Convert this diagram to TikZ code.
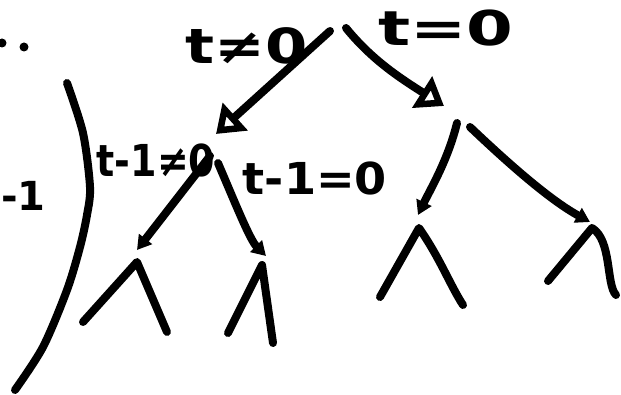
\documentclass[tikz,border=0pt]{standalone}
\usepackage{fontspec}
\newfontfamily\handfont{DejaVu Sans}
\usetikzlibrary{arrows.meta}
\begin{document}
\begin{tikzpicture}[x=1pt,y=-1pt,
  stroke/.style={line width=8pt, line cap=round, line join=round},
  bigtip/.style={-{Triangle[open,length=26pt,width=36pt,line width=6.5pt]}},
  smalltip/.style={-{Triangle[length=14pt,width=16pt]}},
  lbl/.style={font=\handfont\bfseries, inner sep=0pt}]
\useasboundingbox (0,0) rectangle (621,395);

% --- tree vertices ---------------------------------------------------
\coordinate (rootL) at (330,31);
\coordinate (rootR) at (346,28);
\coordinate (a) at (216,134);
\coordinate (b) at (444,106);
% branches below the left child
\coordinate (a1) at (210,156);
\coordinate (a1e) at (137,250);
\coordinate (a2) at (218,163);
\coordinate (a2e) at (266,256);
% branches below the right child
\coordinate (b1) at (457,123);
\coordinate (b1e) at (418,215);
\coordinate (b2) at (470,127);
\coordinate (b2e) at (590,222);
% leaf forks
\coordinate (ll) at (137,262);  \coordinate (ll1) at (83,322);  \coordinate (ll2) at (167,332);
\coordinate (lr) at (262,265);  \coordinate (lr1) at (228,333); \coordinate (lr2) at (273,343);
\coordinate (rl) at (419,228);  \coordinate (rl1) at (380,297); \coordinate (rl2) at (463,305);
\coordinate (rr) at (592,228);  \coordinate (rr1) at (548,281); \coordinate (rr2) at (616,295);

% --- labels ------------------------------------------------------------
\node[lbl] (tneq)  at (247,46)  {\fontsize{44}{44}\selectfont\scalebox{1.38}[1.1]{t≠0}};
\node[lbl] (teq)   at (446,28)  {\fontsize{48}{48}\selectfont\scalebox{1.4}[1]{t=0}};
\node[lbl] (t1neq) at (156,160) {\fontsize{40}{40}\selectfont\scalebox{0.95}[1.1]{t-1≠0}};
\node[lbl] (t1eq)  at (315,178) {\fontsize{44}{44}\selectfont\scalebox{1.05}[1]{t-1=0}};
\node[lbl, anchor=west] (m1) at (1,196) {\fontsize{40}{40}\selectfont -1};

% --- dots and the bracket on the left ------------------------------------
\fill (24,47) circle (4.5pt);
\fill (2,43) circle (4.5pt);
\draw[stroke] plot[smooth] coordinates {(67,83) (83,133) (90,187) (87,215) (80,247) (67,290) (43,347) (15,390)};

% --- first split -------------------------------------------------------
\draw[stroke, bigtip] (rootL) -- (a);
\draw[stroke, bigtip] (rootR) .. controls (372,60) and (400,78) .. (b);

% --- second split ------------------------------------------------------
\draw[stroke, smalltip] (a1) -- (a1e);
\draw[stroke, smalltip] (a2) .. controls (236,205) and (250,240) .. (a2e);
\draw[stroke, smalltip] (b1) .. controls (448,160) and (430,190) .. (b1e);
\draw[stroke, smalltip] (b2) .. controls (510,165) and (550,200) .. (b2e);

% --- leaves ------------------------------------------------------------
\draw[stroke] (ll1) -- (ll) -- (ll2);
\draw[stroke] (lr1) -- (lr) -- (lr2);
\draw[stroke] (rl1) -- (rl) .. controls (440,258) and (450,285) .. (rl2);
\draw[stroke] (rr1) -- (rr) .. controls (612,240) and (606,285) .. (rr2);
\end{tikzpicture}
\end{document}
